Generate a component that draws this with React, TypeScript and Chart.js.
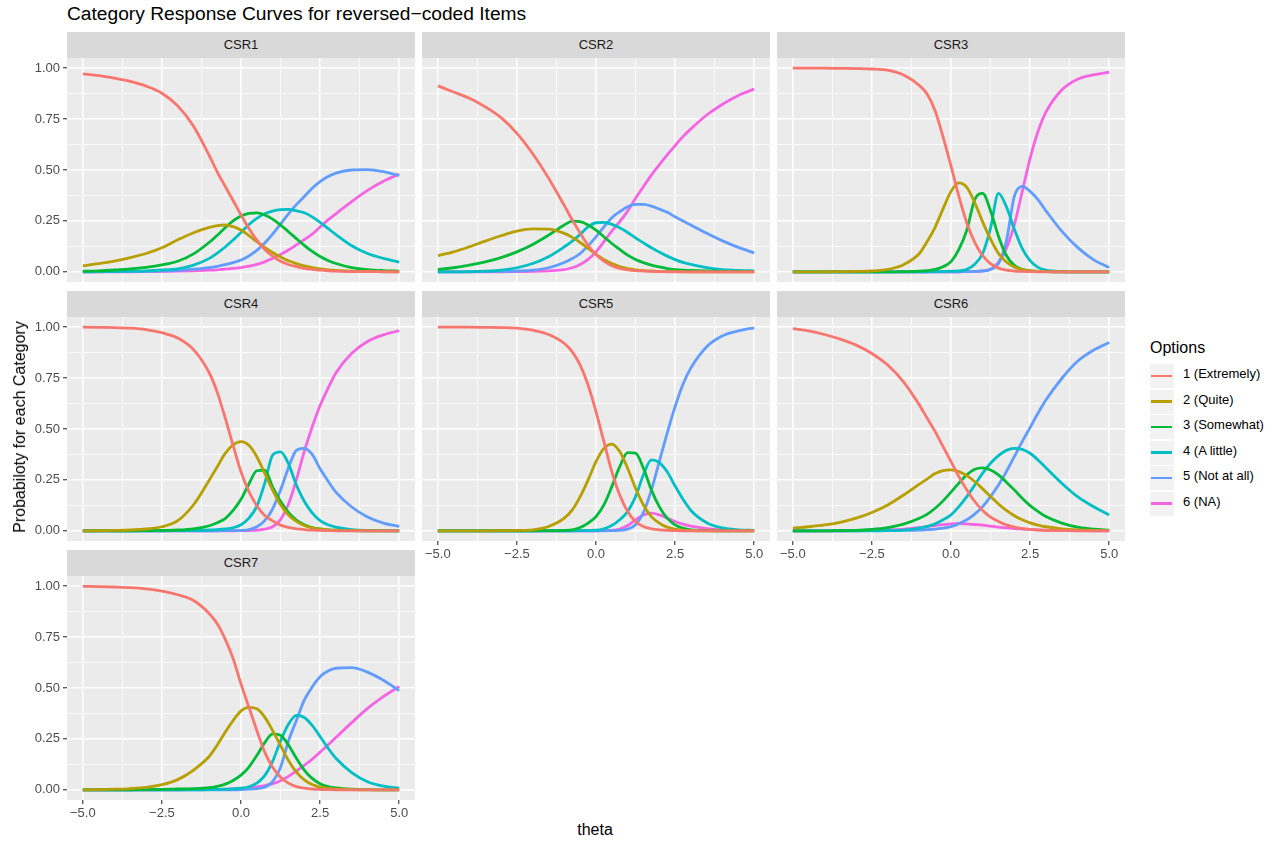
import React, { useEffect, useRef } from 'react';
import { Chart, registerables } from 'chart.js';

Chart.register(...registerables);

// ---------- axis values ----------
const THETA = [-5, -4.5, -4, -3.5, -3, -2.5, -2, -1.5, -1, -0.75, -0.5, -0.25, 0, 0.25, 0.5, 0.75, 1, 1.25, 1.5, 1.75, 2, 2.25, 2.5, 2.75, 3, 3.5, 4, 4.5, 5];
const X_GRID = [-5, -3.75, -2.5, -1.25, 0, 1.25, 2.5, 3.75, 5];
const X_MAJOR = [-5, -2.5, 0, 2.5, 5];
const X_LABELS = ['\u22125.0', '\u22122.5', '0.0', '2.5', '5.0'];
const Y_GRID = [0, 0.125, 0.25, 0.375, 0.5, 0.625, 0.75, 0.875, 1];
const Y_MAJOR = [0, 0.25, 0.5, 0.75, 1];
const Y_LABELS = ['0.00', '0.25', '0.50', '0.75', '1.00'];

const OPTION_LABELS = ['1 (Extremely)', '2 (Quite)', '3 (Somewhat)', '4 (A little)', '5 (Not at all)', '6 (NA)'];
const OPTION_COLORS = ['#F8766D', '#B79F00', '#00BA38', '#00BFC4', '#619CFF', '#F564E3'];

// ---------- CSR1 ----------
const CSR1_1 = [0.972, 0.963, 0.951, 0.935, 0.912, 0.877, 0.815, 0.715, 0.57, 0.49, 0.42, 0.35, 0.28, 0.213, 0.156, 0.11, 0.077, 0.052, 0.036, 0.025, 0.017, 0.012, 0.008, 0.005, 0.003, 0.001, 0.001, 0, 0];
const CSR1_2 = [0.03, 0.04, 0.053, 0.07, 0.09, 0.118, 0.157, 0.192, 0.218, 0.227, 0.23, 0.222, 0.205, 0.178, 0.148, 0.12, 0.095, 0.073, 0.054, 0.04, 0.029, 0.021, 0.015, 0.01, 0.007, 0.003, 0.002, 0.001, 0];
const CSR1_3 = [0.003, 0.005, 0.009, 0.014, 0.022, 0.034, 0.052, 0.088, 0.145, 0.18, 0.216, 0.25, 0.274, 0.287, 0.289, 0.279, 0.259, 0.23, 0.197, 0.163, 0.13, 0.1, 0.075, 0.056, 0.041, 0.021, 0.011, 0.006, 0.003];
const CSR1_4 = [0, 0.001, 0.002, 0.003, 0.005, 0.009, 0.015, 0.033, 0.066, 0.092, 0.122, 0.156, 0.193, 0.232, 0.262, 0.285, 0.298, 0.305, 0.307, 0.3, 0.29, 0.27, 0.243, 0.213, 0.183, 0.128, 0.09, 0.066, 0.048];
const CSR1_5 = [0, 0, 0.001, 0.001, 0.002, 0.004, 0.007, 0.013, 0.021, 0.027, 0.035, 0.045, 0.058, 0.078, 0.105, 0.142, 0.185, 0.235, 0.285, 0.33, 0.37, 0.41, 0.443, 0.468, 0.485, 0.5, 0.502, 0.492, 0.472];
const CSR1_6 = [0, 0, 0, 0, 0.001, 0.002, 0.003, 0.005, 0.008, 0.01, 0.013, 0.017, 0.021, 0.028, 0.037, 0.049, 0.066, 0.085, 0.107, 0.132, 0.158, 0.185, 0.22, 0.255, 0.285, 0.345, 0.4, 0.445, 0.48];

// ---------- CSR2 ----------
const CSR2_1 = [0.913, 0.883, 0.852, 0.81, 0.757, 0.68, 0.58, 0.46, 0.325, 0.255, 0.19, 0.13, 0.085, 0.052, 0.03, 0.017, 0.01, 0.006, 0.004, 0.002, 0.001, 0, 0, 0, 0, 0, 0, 0, 0];
const CSR2_2 = [0.079, 0.098, 0.123, 0.151, 0.177, 0.2, 0.211, 0.21, 0.189, 0.169, 0.144, 0.115, 0.085, 0.061, 0.041, 0.026, 0.016, 0.01, 0.006, 0.004, 0.002, 0.001, 0.001, 0, 0, 0, 0, 0, 0];
const CSR2_3 = [0.011, 0.02, 0.033, 0.049, 0.07, 0.098, 0.134, 0.18, 0.23, 0.249, 0.246, 0.23, 0.205, 0.172, 0.139, 0.11, 0.082, 0.061, 0.045, 0.033, 0.024, 0.016, 0.011, 0.008, 0.007, 0.004, 0.002, 0.001, 0.001];
const CSR2_4 = [0, 0, 0.001, 0.003, 0.008, 0.02, 0.041, 0.074, 0.123, 0.151, 0.184, 0.221, 0.241, 0.243, 0.233, 0.216, 0.193, 0.167, 0.142, 0.118, 0.097, 0.077, 0.06, 0.046, 0.036, 0.021, 0.011, 0.007, 0.005];
const CSR2_5 = [0, 0, 0, 0.001, 0.002, 0.004, 0.008, 0.02, 0.046, 0.065, 0.09, 0.128, 0.172, 0.221, 0.266, 0.295, 0.32, 0.331, 0.331, 0.323, 0.308, 0.292, 0.27, 0.249, 0.23, 0.189, 0.152, 0.12, 0.093];
const CSR2_6 = [0, 0, 0, 0, 0, 0.001, 0.002, 0.005, 0.011, 0.02, 0.036, 0.061, 0.098, 0.148, 0.2, 0.246, 0.298, 0.361, 0.418, 0.475, 0.525, 0.574, 0.62, 0.664, 0.702, 0.77, 0.823, 0.866, 0.897];

// ---------- CSR3 ----------
const CSR3_1 = [1, 1, 1, 0.999, 0.998, 0.996, 0.99, 0.966, 0.915, 0.872, 0.79, 0.662, 0.52, 0.37, 0.24, 0.145, 0.08, 0.04, 0.018, 0.008, 0.004, 0.002, 0.001, 0, 0, 0, 0, 0, 0];
const CSR3_2 = [0, 0, 0, 0.001, 0.002, 0.004, 0.012, 0.035, 0.09, 0.15, 0.22, 0.31, 0.395, 0.437, 0.415, 0.34, 0.245, 0.16, 0.09, 0.048, 0.024, 0.011, 0.005, 0.002, 0.001, 0, 0, 0, 0];
const CSR3_3 = [0, 0, 0, 0, 0, 0, 0, 0.001, 0.003, 0.006, 0.012, 0.025, 0.05, 0.11, 0.205, 0.355, 0.385, 0.3, 0.175, 0.08, 0.032, 0.012, 0.005, 0.002, 0.001, 0, 0, 0, 0];
const CSR3_4 = [0, 0, 0, 0, 0, 0, 0, 0, 0, 0, 0.001, 0.002, 0.003, 0.005, 0.012, 0.037, 0.09, 0.215, 0.385, 0.32, 0.21, 0.115, 0.055, 0.022, 0.008, 0.001, 0, 0, 0];
const CSR3_5 = [0, 0, 0, 0, 0, 0, 0, 0, 0, 0, 0, 0, 0, 0, 0.001, 0.002, 0.004, 0.012, 0.04, 0.15, 0.37, 0.42, 0.395, 0.355, 0.3, 0.2, 0.12, 0.06, 0.021];
const CSR3_6 = [0, 0, 0, 0, 0, 0, 0, 0, 0, 0, 0, 0, 0, 0, 0.001, 0.002, 0.005, 0.013, 0.046, 0.115, 0.23, 0.393, 0.557, 0.689, 0.784, 0.893, 0.946, 0.967, 0.98];

// ---------- CSR4 ----------
const CSR4_1 = [1, 0.999, 0.998, 0.995, 0.988, 0.973, 0.947, 0.89, 0.775, 0.68, 0.555, 0.42, 0.29, 0.193, 0.123, 0.075, 0.049, 0.028, 0.017, 0.01, 0.006, 0.003, 0.002, 0.001, 0, 0, 0, 0, 0];
const CSR4_2 = [0, 0.001, 0.002, 0.004, 0.009, 0.02, 0.05, 0.128, 0.25, 0.315, 0.38, 0.422, 0.438, 0.42, 0.364, 0.283, 0.2, 0.128, 0.078, 0.046, 0.026, 0.014, 0.008, 0.004, 0.002, 0.001, 0, 0, 0];
const CSR4_3 = [0, 0, 0, 0, 0.001, 0.002, 0.004, 0.01, 0.025, 0.04, 0.06, 0.1, 0.155, 0.23, 0.295, 0.298, 0.215, 0.145, 0.09, 0.053, 0.03, 0.016, 0.009, 0.005, 0.003, 0.001, 0, 0, 0];
const CSR4_4 = [0, 0, 0, 0, 0, 0, 0.001, 0.002, 0.004, 0.006, 0.009, 0.015, 0.03, 0.062, 0.12, 0.234, 0.372, 0.388, 0.33, 0.225, 0.145, 0.088, 0.05, 0.03, 0.018, 0.006, 0.002, 0.001, 0];
const CSR4_5 = [0, 0, 0, 0, 0, 0, 0, 0, 0, 0, 0.001, 0.001, 0.002, 0.006, 0.02, 0.05, 0.108, 0.2, 0.31, 0.395, 0.405, 0.375, 0.305, 0.245, 0.19, 0.117, 0.068, 0.038, 0.021];
const CSR4_6 = [0, 0, 0, 0, 0, 0, 0, 0, 0, 0, 0, 0, 0.001, 0.001, 0.003, 0.008, 0.02, 0.055, 0.13, 0.25, 0.39, 0.51, 0.615, 0.7, 0.775, 0.872, 0.93, 0.962, 0.983];

// ---------- CSR5 ----------
const CSR5_1 = [1, 1, 1, 0.999, 0.998, 0.995, 0.985, 0.964, 0.92, 0.879, 0.814, 0.716, 0.585, 0.438, 0.291, 0.176, 0.095, 0.046, 0.021, 0.01, 0.005, 0.002, 0.001, 0, 0, 0, 0, 0, 0];
const CSR5_2 = [0, 0, 0, 0, 0.001, 0.002, 0.005, 0.021, 0.062, 0.103, 0.168, 0.25, 0.34, 0.405, 0.426, 0.389, 0.307, 0.209, 0.127, 0.07, 0.038, 0.018, 0.008, 0.003, 0.001, 0, 0, 0, 0];
const CSR5_3 = [0, 0, 0, 0, 0, 0, 0, 0.001, 0.002, 0.005, 0.016, 0.038, 0.07, 0.127, 0.217, 0.315, 0.384, 0.381, 0.307, 0.201, 0.119, 0.062, 0.029, 0.013, 0.005, 0.001, 0, 0, 0];
const CSR5_4 = [0, 0, 0, 0, 0, 0, 0, 0, 0, 0, 0.001, 0.002, 0.003, 0.01, 0.026, 0.054, 0.095, 0.168, 0.275, 0.348, 0.335, 0.29, 0.22, 0.155, 0.1, 0.04, 0.014, 0.005, 0.002];
const CSR5_5 = [0, 0, 0, 0, 0, 0, 0, 0, 0, 0, 0, 0, 0, 0, 0.001, 0.002, 0.008, 0.03, 0.09, 0.2, 0.34, 0.48, 0.61, 0.72, 0.8, 0.904, 0.958, 0.982, 0.997];
const CSR5_6 = [0, 0, 0, 0, 0, 0, 0, 0, 0, 0, 0, 0, 0, 0.001, 0.002, 0.008, 0.026, 0.054, 0.078, 0.087, 0.078, 0.062, 0.046, 0.033, 0.023, 0.011, 0.005, 0.002, 0.001];

// ---------- CSR6 ----------
const CSR6_1 = [0.993, 0.982, 0.964, 0.941, 0.912, 0.871, 0.814, 0.732, 0.618, 0.552, 0.487, 0.413, 0.34, 0.266, 0.201, 0.144, 0.1, 0.067, 0.046, 0.029, 0.018, 0.011, 0.007, 0.003, 0.002, 0.001, 0, 0, 0];
const CSR6_2 = [0.013, 0.02, 0.029, 0.042, 0.062, 0.09, 0.127, 0.176, 0.229, 0.255, 0.281, 0.296, 0.299, 0.291, 0.271, 0.242, 0.206, 0.168, 0.132, 0.1, 0.074, 0.054, 0.039, 0.028, 0.02, 0.01, 0.005, 0.002, 0.001];
const CSR6_3 = [0, 0, 0, 0.001, 0.002, 0.007, 0.016, 0.033, 0.062, 0.082, 0.111, 0.147, 0.19, 0.234, 0.275, 0.302, 0.309, 0.299, 0.275, 0.239, 0.201, 0.16, 0.124, 0.095, 0.07, 0.038, 0.018, 0.008, 0.003];
const CSR6_4 = [0, 0, 0, 0, 0, 0, 0.001, 0.003, 0.013, 0.022, 0.034, 0.054, 0.078, 0.119, 0.168, 0.225, 0.283, 0.332, 0.369, 0.395, 0.405, 0.4, 0.381, 0.348, 0.31, 0.234, 0.168, 0.119, 0.078];
const CSR6_5 = [0, 0, 0, 0, 0, 0.001, 0.001, 0.002, 0.004, 0.006, 0.008, 0.013, 0.021, 0.035, 0.054, 0.082, 0.119, 0.168, 0.225, 0.291, 0.364, 0.438, 0.507, 0.577, 0.642, 0.748, 0.833, 0.887, 0.925];
const CSR6_6 = [0, 0, 0, 0, 0.002, 0.003, 0.005, 0.008, 0.016, 0.021, 0.026, 0.03, 0.034, 0.036, 0.034, 0.031, 0.028, 0.023, 0.018, 0.014, 0.011, 0.009, 0.007, 0.005, 0.003, 0.002, 0.001, 0, 0];

// ---------- CSR7 ----------
const CSR7_1 = [0.999, 0.998, 0.996, 0.993, 0.987, 0.976, 0.958, 0.93, 0.865, 0.815, 0.74, 0.645, 0.52, 0.406, 0.291, 0.185, 0.111, 0.062, 0.033, 0.016, 0.008, 0.004, 0.002, 0.001, 0, 0, 0, 0, 0];
const CSR7_2 = [0, 0.001, 0.003, 0.006, 0.012, 0.025, 0.05, 0.097, 0.165, 0.22, 0.283, 0.34, 0.388, 0.405, 0.398, 0.357, 0.291, 0.218, 0.144, 0.087, 0.049, 0.026, 0.013, 0.007, 0.004, 0.001, 0, 0, 0];
const CSR7_3 = [0, 0, 0, 0, 0.001, 0.002, 0.004, 0.006, 0.011, 0.017, 0.028, 0.046, 0.072, 0.112, 0.168, 0.232, 0.275, 0.268, 0.22, 0.155, 0.097, 0.056, 0.03, 0.016, 0.009, 0.003, 0.001, 0, 0];
const CSR7_4 = [0, 0, 0, 0, 0, 0, 0, 0, 0.001, 0.002, 0.003, 0.005, 0.008, 0.015, 0.033, 0.07, 0.14, 0.24, 0.322, 0.366, 0.355, 0.316, 0.262, 0.205, 0.155, 0.085, 0.04, 0.018, 0.008];
const CSR7_5 = [0, 0, 0, 0, 0, 0, 0, 0, 0, 0, 0, 0, 0.001, 0.003, 0.006, 0.013, 0.04, 0.11, 0.24, 0.34, 0.44, 0.505, 0.555, 0.583, 0.597, 0.6, 0.578, 0.538, 0.487];
const CSR7_6 = [0, 0, 0, 0, 0, 0, 0, 0.001, 0.002, 0.002, 0.003, 0.005, 0.007, 0.01, 0.015, 0.021, 0.03, 0.045, 0.066, 0.092, 0.12, 0.15, 0.185, 0.22, 0.257, 0.33, 0.4, 0.458, 0.508];

const PANELS = [
  { name: 'CSR1', row: 0, col: 0, showX: false, series: [CSR1_1, CSR1_2, CSR1_3, CSR1_4, CSR1_5, CSR1_6] },
  { name: 'CSR2', row: 0, col: 1, showX: false, series: [CSR2_1, CSR2_2, CSR2_3, CSR2_4, CSR2_5, CSR2_6] },
  { name: 'CSR3', row: 0, col: 2, showX: false, series: [CSR3_1, CSR3_2, CSR3_3, CSR3_4, CSR3_5, CSR3_6] },
  { name: 'CSR4', row: 1, col: 0, showX: false, series: [CSR4_1, CSR4_2, CSR4_3, CSR4_4, CSR4_5, CSR4_6] },
  { name: 'CSR5', row: 1, col: 1, showX: true, series: [CSR5_1, CSR5_2, CSR5_3, CSR5_4, CSR5_5, CSR5_6] },
  { name: 'CSR6', row: 1, col: 2, showX: true, series: [CSR6_1, CSR6_2, CSR6_3, CSR6_4, CSR6_5, CSR6_6] },
  { name: 'CSR7', row: 2, col: 0, showX: true, series: [CSR7_1, CSR7_2, CSR7_3, CSR7_4, CSR7_5, CSR7_6] },
];

// ---------- layout ----------
const COL_LEFT = [67, 422, 777];
const ROW_TOP = [58, 317, 576];
const PANEL_W = 348;
const PANEL_H = 224;
const STRIP_H = 26;
const X_AXIS_H = 30;
const FONT = '"Liberation Sans", Arial, Helvetica, sans-serif';

const panelBg = {
  id: 'panelBg',
  beforeDraw(chart: any) {
    const { ctx, chartArea } = chart;
    ctx.save();
    ctx.fillStyle = '#EBEBEB';
    ctx.fillRect(chartArea.left, chartArea.top, chartArea.right - chartArea.left, chartArea.bottom - chartArea.top);
    ctx.restore();
  },
};

function isMajor(list: number[], v: number) {
  return list.some((m) => Math.abs(m - v) < 1e-9);
}

function Panel({ p }: { p: any }) {
  const ref = useRef<HTMLCanvasElement | null>(null);
  const plotLeft = COL_LEFT[p.col];
  const plotTop = ROW_TOP[p.row];
  const yAxisW = p.col === 0 ? plotLeft : 0;
  const xAxisH = p.showX ? X_AXIS_H : 0;
  const w = yAxisW + PANEL_W;
  const h = PANEL_H + xAxisH;

  useEffect(() => {
    if (!ref.current) return;
    const chart = new Chart(ref.current, {
      type: 'line',
      data: {
        datasets: p.series.map((vals: number[], i: number) => ({
          label: OPTION_LABELS[i],
          data: THETA.map((t, j) => ({ x: t, y: vals[j] })),
          borderColor: OPTION_COLORS[i],
          backgroundColor: OPTION_COLORS[i],
          borderWidth: 2.8,
          pointRadius: 0,
          fill: false,
          cubicInterpolationMode: 'monotone',
        })),
      },
      options: {
        animation: false,
        responsive: false,
        maintainAspectRatio: false,
        events: [],
        layout: { padding: 0 },
        plugins: { legend: { display: false }, tooltip: { enabled: false }, title: { display: false } },
        scales: {
          x: {
            type: 'linear',
            min: -5.5,
            max: 5.5,
            afterBuildTicks: (s: any) => {
              s.ticks = X_GRID.map((v) => ({ value: v }));
            },
            afterFit: (s: any) => {
              s.height = xAxisH;
              s.paddingLeft = 0;
              s.paddingRight = 0;
            },
            border: { display: false },
            grid: {
              color: '#FFFFFF',
              lineWidth: (c: any) => (c.tick && isMajor(X_MAJOR, c.tick.value) ? 1.5 : 0.75),
              drawTicks: p.showX,
              tickLength: 4,
              tickWidth: 1.1,
              tickColor: (c: any) => (c.tick && isMajor(X_MAJOR, c.tick.value) ? '#333333' : 'rgba(0,0,0,0)'),
            },
            ticks: {
              display: p.showX,
              autoSkip: false,
              maxRotation: 0,
              minRotation: 0,
              padding: 2,
              color: '#4D4D4D',
              font: { family: FONT, size: 13 },
              callback: (v: any) => {
                const k = X_MAJOR.findIndex((m) => Math.abs(m - v) < 1e-9);
                return k >= 0 ? X_LABELS[k] : '';
              },
            },
          },
          y: {
            type: 'linear',
            position: 'left',
            min: -0.05,
            max: 1.05,
            afterBuildTicks: (s: any) => {
              s.ticks = Y_GRID.map((v) => ({ value: v }));
            },
            afterFit: (s: any) => {
              s.width = yAxisW;
              s.paddingTop = 0;
              s.paddingBottom = 0;
            },
            border: { display: false },
            grid: {
              color: '#FFFFFF',
              lineWidth: (c: any) => (c.tick && isMajor(Y_MAJOR, c.tick.value) ? 1.5 : 0.75),
              drawTicks: p.col === 0,
              tickLength: 4,
              tickWidth: 1.1,
              tickColor: (c: any) => (c.tick && isMajor(Y_MAJOR, c.tick.value) ? '#333333' : 'rgba(0,0,0,0)'),
            },
            ticks: {
              display: p.col === 0,
              autoSkip: false,
              padding: 3,
              color: '#4D4D4D',
              font: { family: FONT, size: 13 },
              callback: (v: any) => {
                const k = Y_MAJOR.findIndex((m) => Math.abs(m - v) < 1e-9);
                return k >= 0 ? Y_LABELS[k] : '';
              },
            },
          },
        },
      } as any,
      plugins: [panelBg],
    } as any);
    return () => chart.destroy();
  }, []);

  return (
    <>
      <div
        style={{
          position: 'absolute',
          left: plotLeft,
          top: plotTop - STRIP_H,
          width: PANEL_W,
          height: STRIP_H,
          background: '#D9D9D9',
          color: '#1A1A1A',
          font: `13px ${FONT}`,
          lineHeight: `${STRIP_H}px`,
          textAlign: 'center',
        }}
      >
        {p.name}
      </div>
      <canvas
        ref={ref}
        width={w}
        height={h}
        style={{ position: 'absolute', left: plotLeft - yAxisW, top: plotTop, width: w, height: h, display: 'block' }}
      />
    </>
  );
}

export default function App() {
  const legendTop = 364;
  const keyH = 25.5;
  return (
    <div style={{ position: 'absolute', left: 0, top: 0, width: 1275, height: 843, background: '#FFFFFF', overflow: 'hidden', fontFamily: FONT }}>
      <div style={{ position: 'absolute', left: 67, top: 3, font: `19.2px ${FONT}`, color: '#000000', whiteSpace: 'nowrap', lineHeight: '22px' }}>
        Category Response Curves for reversed{'\u2212'}coded Items
      </div>
      {PANELS.map((p) => (
        <Panel key={p.name} p={p} />
      ))}
      <div
        style={{
          position: 'absolute',
          left: 20,
          top: 427,
          transform: 'translate(-50%, -50%) rotate(-90deg)',
          font: `16px ${FONT}`,
          color: '#000000',
          whiteSpace: 'nowrap',
        }}
      >
        Probabiloty for each Category
      </div>
      <div
        style={{
          position: 'absolute',
          left: 595,
          top: 830,
          transform: 'translate(-50%, -50%)',
          font: `16px ${FONT}`,
          color: '#000000',
          whiteSpace: 'nowrap',
        }}
      >
        theta
      </div>
      <div style={{ position: 'absolute', left: 1150, top: 338, font: `16px ${FONT}`, color: '#000000', lineHeight: '20px' }}>Options</div>
      {OPTION_LABELS.map((lab, i) => (
        <div key={lab}>
          <div
            style={{
              position: 'absolute',
              left: 1150,
              top: legendTop + i * keyH,
              width: 24,
              height: keyH - 1.5,
              background: '#F2F2F2',
            }}
          />
          <div
            style={{
              position: 'absolute',
              left: 1151,
              top: legendTop + i * keyH + (keyH - 1.5) / 2 - 1.3,
              width: 21,
              height: 2.6,
              background: OPTION_COLORS[i],
            }}
          />
          <div
            style={{
              position: 'absolute',
              left: 1183,
              top: legendTop + i * keyH + 2,
              height: keyH - 1.5,
              lineHeight: `${keyH - 1.5}px`,
              font: `13px ${FONT}`,
              color: '#000000',
              whiteSpace: 'nowrap',
            }}
          >
            {lab}
          </div>
        </div>
      ))}
    </div>
  );
}
